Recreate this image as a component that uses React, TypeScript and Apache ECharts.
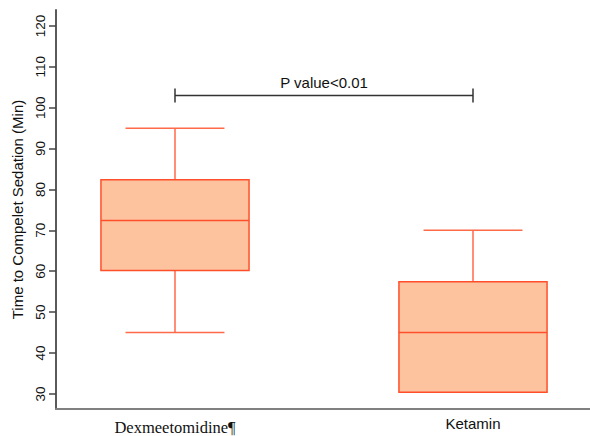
import React, { useEffect, useRef } from "react";
import * as echarts from "echarts";

const categories = ["Dexmeetomidine¶", "Ketamin"];
const mins = [45, 30.4];
const q1s = [60.2, 30.4];
const medians = [72.4, 45];
const q3s = [82.4, 57.4];
const maxs = [95, 70];
const yTicks = [30, 40, 50, 60, 70, 80, 90, 100, 110, 120];
const bracket = { from: 1, to: 2, y: 103, label: "P value<0.01" };

const BOX_W = 0.497;
const CAP_W = 0.332;
const BOX_FILL = "#FDC39F";
const BOX_STROKE = "#FF4F2A";
const WHISKER = "#FF6A48";

export default function App() {
  const ref = useRef<HTMLDivElement>(null);
  useEffect(() => {
    if (!ref.current) return;
    const chart = echarts.init(ref.current, undefined, { renderer: "svg" });
    const boxData = categories.map((_, i) => [i + 1, mins[i], q1s[i], medians[i], q3s[i], maxs[i]]);
    chart.setOption({
      animation: false,
      backgroundColor: "#ffffff",
      grid: { left: 56, right: 0, top: 10, bottom: 26 },
      xAxis: {
        type: "value",
        min: 0.6007,
        max: 2.3926,
        splitLine: { show: false },
        axisLine: { show: true, onZero: false, lineStyle: { color: "#808080", width: 2 } },
        axisTick: { show: false },
        axisLabel: {
          customValues: [1, 2],
          margin: 7,
          formatter: (v: number) => {
            const i = Math.round(v) - 1;
            return i === 0 ? "{s|" + categories[i] + "}" : "{a|" + categories[i] + "}";
          },
          rich: {
            s: { fontFamily: "Liberation Serif", fontSize: 16.5, color: "#111", padding: [3, 0, 0, 0] },
            a: { fontFamily: "Liberation Sans", fontSize: 15, color: "#111" },
          },
        },
      },
      yAxis: {
        type: "value",
        min: 26.3,
        max: 123.9,
        name: "Time to Compelet Sedation (Min)",
        nameLocation: "middle",
        nameGap: 26,
        nameTextStyle: { fontFamily: "Liberation Sans", fontSize: 15, color: "#111" },
        splitLine: { show: false },
        axisLine: { show: true, onZero: false, lineStyle: { color: "#5a5a5a", width: 2 } },
        axisTick: { show: true, customValues: yTicks, length: 7, lineStyle: { color: "#444", width: 1.5 } },
        axisLabel: {
          customValues: yTicks,
          rotate: 90,
          margin: 9,
          fontFamily: "Liberation Sans",
          fontSize: 13.5,
          color: "#111",
        },
      },
      series: [
        {
          type: "custom",
          data: boxData,
          encode: { x: 0, y: [1, 2, 3, 4, 5] },
          renderItem: (params: any, api: any) => {
            const x = api.value(0);
            const pMin = api.coord([x, api.value(1)]);
            const pQ1 = api.coord([x, api.value(2)]);
            const pMed = api.coord([x, api.value(3)]);
            const pQ3 = api.coord([x, api.value(4)]);
            const pMax = api.coord([x, api.value(5)]);
            const bw = api.size([BOX_W, 0])[0];
            const cw = api.size([CAP_W, 0])[0];
            const cx = pMed[0];
            const wStyle = { stroke: WHISKER, lineWidth: 1.5, fill: null };
            const children: any[] = [
              { type: "line", shape: { x1: cx, y1: pQ3[1], x2: cx, y2: pMax[1] }, style: wStyle },
              { type: "line", shape: { x1: cx - cw / 2, y1: pMax[1], x2: cx + cw / 2, y2: pMax[1] }, style: wStyle },
            ];
            if (pMin[1] - pQ1[1] > 1) {
              children.push(
                { type: "line", shape: { x1: cx, y1: pQ1[1], x2: cx, y2: pMin[1] }, style: wStyle },
                { type: "line", shape: { x1: cx - cw / 2, y1: pMin[1], x2: cx + cw / 2, y2: pMin[1] }, style: wStyle }
              );
            }
            children.push(
              {
                type: "rect",
                shape: { x: cx - bw / 2, y: pQ3[1], width: bw, height: pQ1[1] - pQ3[1] },
                style: { fill: BOX_FILL, stroke: BOX_STROKE, lineWidth: 1.5 },
              },
              {
                type: "line",
                shape: { x1: cx - bw / 2, y1: pMed[1], x2: cx + bw / 2, y2: pMed[1] },
                style: { stroke: BOX_STROKE, lineWidth: 1.5 },
              }
            );
            return { type: "group", children };
          },
        },
        {
          type: "custom",
          data: [[bracket.from, bracket.to, bracket.y]],
          encode: { x: [0, 1], y: 2 },
          renderItem: (params: any, api: any) => {
            const a = api.coord([api.value(0), api.value(2)]);
            const b = api.coord([api.value(1), api.value(2)]);
            const st = { stroke: "#333", lineWidth: 1.5 };
            return {
              type: "group",
              children: [
                { type: "line", shape: { x1: a[0], y1: a[1], x2: b[0], y2: b[1] }, style: st },
                { type: "line", shape: { x1: a[0], y1: a[1] - 7, x2: a[0], y2: a[1] + 7 }, style: st },
                { type: "line", shape: { x1: b[0], y1: b[1] - 7, x2: b[0], y2: b[1] + 7 }, style: st },
                {
                  type: "text",
                  x: (a[0] + b[0]) / 2,
                  y: a[1] - 5,
                  style: {
                    text: bracket.label,
                    fontFamily: "Liberation Sans",
                    fontSize: 15,
                    fill: "#111",
                    align: "center",
                    verticalAlign: "bottom",
                  },
                },
              ],
            };
          },
        },
      ],
    });
    return () => chart.dispose();
  }, []);
  return <div ref={ref} style={{ width: 590, height: 436, position: "absolute", left: 0, top: 0 }} />;
}
